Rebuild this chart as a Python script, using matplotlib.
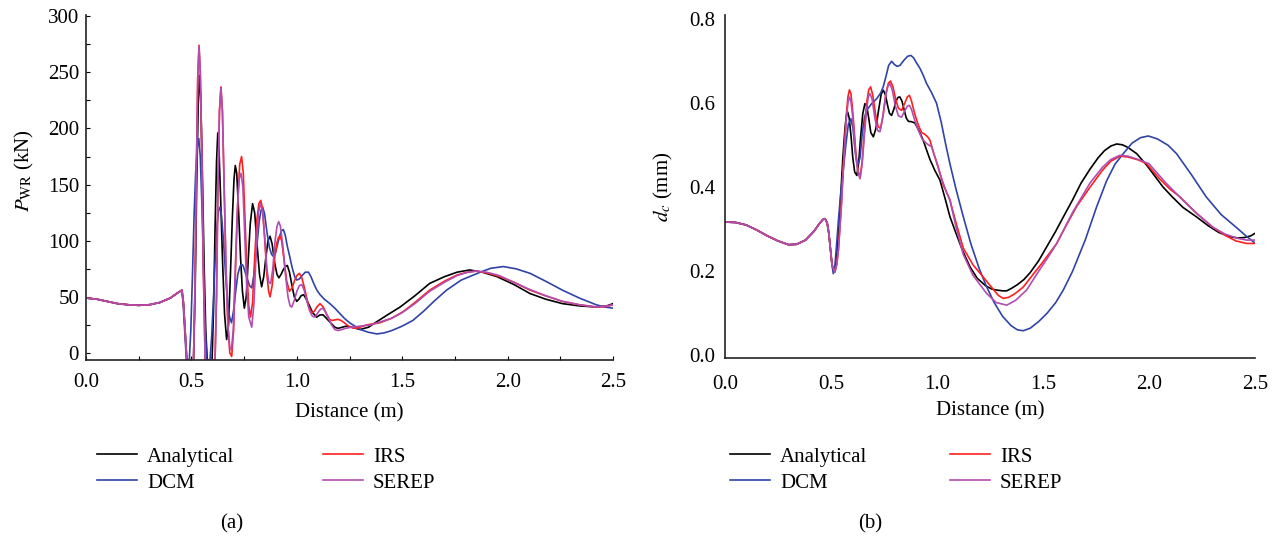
import matplotlib
matplotlib.use('Agg')
import matplotlib.pyplot as plt
from matplotlib.ticker import MultipleLocator, FormatStrFormatter

plt.rcParams['font.family'] = ['Liberation Serif', 'DejaVu Serif']
plt.rcParams['mathtext.fontset'] = 'stix'
plt.rcParams['font.size'] = 15

# ---- panel (a): P_WR (kN) vs distance (m) ----
base_x = [0.0, 0.05, 0.1, 0.15, 0.2, 0.25, 0.3, 0.35, 0.4, 0.43, 0.455]
base_p = [49, 48, 46, 44, 43, 42.5, 43, 45, 49, 53, 56]

ana_x = [0.462, 0.47, 0.478, 0.51, 0.518, 0.525, 0.532, 0.538, 0.544, 0.552, 0.56, 0.568,
         0.575, 0.598, 0.605, 0.612, 0.619, 0.625, 0.631, 0.639, 0.648, 0.657, 0.667,
         0.676, 0.685, 0.694, 0.702, 0.708, 0.715, 0.724, 0.733, 0.742, 0.751, 0.76,
         0.77, 0.779, 0.79, 0.8, 0.812, 0.823, 0.833, 0.843, 0.853, 0.863, 0.873, 0.883,
         0.895, 0.906, 0.915, 0.925, 0.935, 0.945, 0.955, 0.965, 0.975, 0.988, 1.0,
         1.01, 1.02, 1.032, 1.045, 1.06, 1.075, 1.094, 1.11, 1.125, 1.14, 1.16, 1.18,
         1.196, 1.215, 1.236, 1.26, 1.3, 1.34, 1.38, 1.43, 1.49, 1.56, 1.63, 1.7, 1.76,
         1.82, 1.88, 1.95, 2.03, 2.106, 2.18, 2.26, 2.34, 2.42, 2.47, 2.5]
ana_p = [45, 20, -6, -6, 60, 150, 220, 247, 228, 160, 80, 20,
         -6, -6, 40, 110, 170, 196, 180, 135, 80, 35, 12,
         25, 70, 120, 155, 167, 160, 125, 85, 55, 40, 50,
         85, 115, 133, 125, 95, 70, 59, 68, 85, 100, 104, 97,
         80, 70, 67, 70, 74, 77, 78, 72, 62, 50, 46,
         48, 51, 52, 48, 42, 36, 32, 34, 34, 31, 27, 23,
         22, 23, 24, 23, 21, 23, 28, 34, 41, 51, 62, 68, 72,
         74, 72, 68, 61, 53, 48, 44, 42, 41, 42, 44]

dcm_x = [0.462, 0.468, 0.476, 0.49, 0.497, 0.505, 0.513, 0.52, 0.527, 0.535, 0.542, 0.55,
         0.558, 0.566, 0.573, 0.588, 0.596, 0.605, 0.614, 0.622, 0.629, 0.636, 0.643,
         0.652, 0.662, 0.672, 0.681, 0.69, 0.7, 0.71, 0.72, 0.73, 0.738, 0.745, 0.755,
         0.765, 0.776, 0.786, 0.797, 0.81, 0.822, 0.83, 0.838, 0.847, 0.858, 0.87, 0.88,
         0.889, 0.9, 0.91, 0.92, 0.928, 0.936, 0.945, 0.955, 0.965, 0.978, 0.99, 1.0,
         1.012, 1.025, 1.04, 1.055, 1.067, 1.08, 1.095, 1.11, 1.13, 1.157, 1.18, 1.2,
         1.225, 1.25, 1.275, 1.3, 1.34, 1.38, 1.415, 1.45, 1.5, 1.55, 1.6, 1.65, 1.71,
         1.78, 1.87, 1.92, 1.98, 2.04, 2.106, 2.18, 2.26, 2.34, 2.42, 2.46, 2.5]
dcm_p = [40, 20, -6, -6, 20, 70, 125, 160, 182, 191, 175, 130,
         70, 20, -6, -6, 15, 50, 90, 115, 127, 130, 122,
         100, 70, 45, 32, 27, 38, 55, 70, 77, 79, 78, 72,
         66, 60, 58, 70, 95, 118, 127, 130, 124, 108, 94, 88,
         86, 90, 98, 105, 109, 110, 105, 95, 87, 76, 68, 65,
         66, 69, 72, 72, 68, 62, 56, 52, 48, 44, 40, 36,
         31, 27, 24, 21, 18.5, 17, 18, 20, 24, 29, 37, 46, 56,
         65, 72, 75.5, 77, 75, 71, 64, 56, 49, 43, 41, 40]

irs_x = [0.462, 0.47, 0.478, 0.51, 0.517, 0.524, 0.53, 0.536, 0.542, 0.549, 0.557, 0.565,
         0.612, 0.619, 0.626, 0.633, 0.64, 0.647, 0.655, 0.664, 0.673, 0.682, 0.691,
         0.7, 0.71, 0.72, 0.729, 0.738, 0.746, 0.755, 0.764, 0.772, 0.78, 0.79, 0.8,
         0.81, 0.82, 0.829, 0.838, 0.848, 0.858, 0.866, 0.873, 0.883, 0.895, 0.905,
         0.913, 0.92, 0.928, 0.94, 0.952, 0.965, 0.978, 0.99, 1.0, 1.012, 1.024, 1.04,
         1.055, 1.07, 1.082, 1.095, 1.11, 1.125, 1.14, 1.155, 1.166, 1.18, 1.195, 1.21,
         1.225, 1.245, 1.265, 1.28, 1.3, 1.33, 1.36, 1.395, 1.45, 1.505, 1.56, 1.63,
         1.7, 1.76, 1.81, 1.853, 1.91, 1.964, 2.03, 2.106, 2.18, 2.26, 2.34, 2.42, 2.47, 2.5]
irs_p = [45, 20, -6, -6, 60, 170, 246, 274, 251, 180, 70, -6,
         -6, 50, 150, 216, 237, 216, 150, 75, 25, 0, -3,
         20, 80, 135, 168, 175, 160, 115, 70, 42, 32, 45, 85,
         118, 133, 136, 128, 100, 70, 55, 50, 60, 85, 98,
         103, 104, 100, 82, 64, 55, 58, 65, 69, 71, 67, 55,
         42, 36, 37, 41, 44, 41, 35, 30, 29, 29.5, 30, 29,
         27, 24, 22.5, 22, 23, 25, 26, 27, 31, 37, 45, 56,
         64, 69.5, 72, 73, 71, 68, 63, 56, 51, 46, 43, 41, 41.5, 43]

ser_x = [0.462, 0.47, 0.478, 0.51, 0.517, 0.524, 0.53, 0.536, 0.542, 0.549, 0.557, 0.565,
         0.612, 0.619, 0.626, 0.633, 0.64, 0.647, 0.655, 0.664, 0.673, 0.682, 0.69,
         0.699, 0.708, 0.717, 0.726, 0.735, 0.744, 0.753, 0.762, 0.772, 0.786, 0.797,
         0.808, 0.818, 0.827, 0.836, 0.847, 0.858, 0.867, 0.876, 0.886, 0.897, 0.906,
         0.914, 0.922, 0.934, 0.946, 0.958, 0.968, 0.976, 0.988, 1.0, 1.012, 1.023,
         1.035, 1.048, 1.06, 1.073, 1.086, 1.1, 1.112, 1.123, 1.135, 1.15, 1.165, 1.18,
         1.196, 1.215, 1.23, 1.26, 1.3, 1.35, 1.4, 1.45, 1.5, 1.56, 1.63, 1.7, 1.76,
         1.81, 1.85, 1.9, 1.96, 2.03, 2.1, 2.18, 2.26, 2.34, 2.42, 2.47, 2.5]
ser_p = [45, 20, -6, -6, 60, 170, 245, 273, 250, 180, 70, -6,
         -6, 50, 150, 215, 236, 215, 150, 75, 25, 5, 3,
         22, 75, 125, 155, 160, 148, 105, 60, 32, 23, 45,
         95, 125, 133, 128, 105, 75, 63, 62, 75, 100, 113,
         117, 113, 95, 70, 50, 42, 41, 47, 55, 60, 61,
         56, 46, 38, 33, 32, 36, 39, 40, 37, 31, 25, 21,
         20, 21, 22, 23, 24, 25, 28, 31, 36, 44, 55, 63, 69,
         72, 73, 72, 69, 63, 57, 51, 46, 43, 41, 42, 43]

# ---- panel (b): d_c (mm) vs distance (m) ----
base_xb = [0.0, 0.05, 0.1, 0.15, 0.2, 0.25, 0.3, 0.338, 0.38, 0.42, 0.445, 0.462, 0.472,
           0.482, 0.49, 0.498, 0.505]
base_d = [0.317, 0.316, 0.31, 0.298, 0.284, 0.272, 0.263, 0.264, 0.274, 0.295, 0.313, 0.323,
          0.325, 0.315, 0.29, 0.25, 0.215]

ana_xb = [0.512, 0.52, 0.528, 0.537, 0.546, 0.556, 0.566, 0.573, 0.579, 0.586, 0.595, 0.603,
          0.612, 0.622, 0.631, 0.64, 0.65, 0.66, 0.668, 0.678, 0.688, 0.7, 0.712, 0.725,
          0.737, 0.747, 0.757, 0.767, 0.776, 0.786, 0.796, 0.807, 0.816, 0.825, 0.835,
          0.845, 0.855, 0.865, 0.88, 0.896, 0.915, 0.935, 0.95, 0.967, 0.99, 1.014, 1.04,
          1.061, 1.09, 1.12, 1.156, 1.19, 1.23, 1.26, 1.282, 1.31, 1.329, 1.355, 1.38,
          1.41, 1.439, 1.48, 1.52, 1.56, 1.596, 1.64, 1.68, 1.722, 1.76, 1.79, 1.82,
          1.848, 1.875, 1.9, 1.942, 1.99, 2.03, 2.067, 2.11, 2.16, 2.225, 2.28, 2.33,
          2.382, 2.42, 2.45, 2.48, 2.5]
ana_d = [0.2, 0.205, 0.24, 0.3, 0.38, 0.47, 0.54, 0.572, 0.579, 0.565, 0.52, 0.47,
         0.436, 0.428, 0.46, 0.52, 0.575, 0.599, 0.595, 0.565, 0.53, 0.52, 0.54, 0.585,
         0.622, 0.631, 0.62, 0.595, 0.576, 0.571, 0.585, 0.605, 0.614, 0.615, 0.605,
         0.585, 0.565, 0.557, 0.556, 0.553, 0.535, 0.512, 0.49, 0.466, 0.44, 0.417, 0.37,
         0.33, 0.29, 0.25, 0.21, 0.183, 0.165, 0.157, 0.155, 0.153, 0.153, 0.16, 0.168,
         0.18, 0.196, 0.225, 0.26, 0.295, 0.329, 0.37, 0.41, 0.443, 0.47, 0.487, 0.498,
         0.503, 0.501, 0.495, 0.48, 0.452, 0.425, 0.4, 0.377, 0.352, 0.329, 0.308, 0.292,
         0.282, 0.279, 0.28, 0.284, 0.29]

dcm_xb = [0.511, 0.518, 0.526, 0.535, 0.546, 0.558, 0.57, 0.582, 0.594, 0.604, 0.613,
          0.621, 0.628, 0.637, 0.648, 0.658, 0.668, 0.69, 0.716, 0.735, 0.747, 0.76,
          0.772, 0.786, 0.8, 0.812, 0.825, 0.845, 0.862, 0.877, 0.89, 0.905, 0.92, 0.935,
          0.951, 0.975, 0.998, 1.02, 1.04, 1.061, 1.09, 1.124, 1.16, 1.2, 1.234, 1.27,
          1.31, 1.35, 1.38, 1.407, 1.44, 1.48, 1.52, 1.56, 1.596, 1.64, 1.7, 1.753, 1.8,
          1.84, 1.879, 1.92, 1.96, 1.997, 2.04, 2.09, 2.13, 2.2, 2.27, 2.34, 2.41, 2.46, 2.5]
dcm_d = [0.194, 0.21, 0.26, 0.32, 0.385, 0.44, 0.5, 0.55, 0.563, 0.54, 0.49,
         0.462, 0.455, 0.47, 0.53, 0.565, 0.583, 0.598, 0.611, 0.625, 0.64, 0.665,
         0.69, 0.7, 0.692, 0.688, 0.69, 0.703, 0.712, 0.714, 0.708, 0.695, 0.683, 0.667,
         0.647, 0.625, 0.6, 0.555, 0.505, 0.456, 0.395, 0.33, 0.265, 0.205, 0.163, 0.125,
         0.092, 0.07, 0.06, 0.058, 0.064, 0.08, 0.1, 0.125, 0.155, 0.2, 0.275, 0.353, 0.415,
         0.455, 0.48, 0.505, 0.518, 0.522, 0.515, 0.5, 0.48, 0.43, 0.377, 0.335, 0.305,
         0.283, 0.267]

irs_xb = [0.519, 0.527, 0.535, 0.543, 0.55, 0.558, 0.566, 0.573, 0.58, 0.587, 0.594, 0.601,
          0.609, 0.617, 0.627, 0.637, 0.647, 0.657, 0.668, 0.678, 0.687, 0.697, 0.71,
          0.722, 0.734, 0.747, 0.76, 0.771, 0.781, 0.792, 0.805, 0.818, 0.833, 0.848, 0.86,
          0.87, 0.88, 0.895, 0.912, 0.928, 0.943, 0.956, 0.967, 0.985, 1.006, 1.03, 1.061,
          1.09, 1.124, 1.17, 1.218, 1.26, 1.29, 1.313, 1.34, 1.37, 1.407, 1.45, 1.5,
          1.565, 1.6, 1.66, 1.722, 1.78, 1.82, 1.863, 1.9, 1.95, 1.989, 2.05, 2.1, 2.146,
          2.22, 2.3, 2.36, 2.41, 2.46, 2.5]
irs_d = [0.198, 0.215, 0.25, 0.31, 0.37, 0.45, 0.52, 0.575, 0.615, 0.632, 0.623, 0.59,
         0.54, 0.485, 0.44, 0.424, 0.46, 0.53, 0.6, 0.632, 0.639, 0.62, 0.575,
         0.545, 0.54, 0.575, 0.625, 0.648, 0.653, 0.64, 0.61, 0.588, 0.583, 0.6, 0.615,
         0.619, 0.605, 0.575, 0.548, 0.53, 0.526, 0.52, 0.512, 0.48, 0.448, 0.405, 0.37,
         0.315, 0.255, 0.215, 0.186, 0.16, 0.142, 0.135, 0.138, 0.147, 0.162, 0.19, 0.222,
         0.266, 0.3, 0.355, 0.4, 0.44, 0.462, 0.474, 0.472, 0.465, 0.456, 0.42, 0.395, 0.377,
         0.34, 0.305, 0.285, 0.272, 0.266, 0.266]

ser_xb = [0.517, 0.527, 0.535, 0.543, 0.55, 0.558, 0.566, 0.573, 0.58, 0.587, 0.594, 0.601,
          0.609, 0.617, 0.627, 0.637, 0.647, 0.657, 0.668, 0.676, 0.684, 0.694, 0.707,
          0.72, 0.731, 0.744, 0.757, 0.768, 0.778, 0.79, 0.803, 0.818, 0.833, 0.848, 0.86,
          0.87, 0.88, 0.895, 0.912, 0.93, 0.951, 0.975, 0.995, 1.014, 1.04, 1.061, 1.09,
          1.124, 1.17, 1.234, 1.28, 1.329, 1.37, 1.423, 1.48, 1.52, 1.565, 1.64, 1.722,
          1.78, 1.82, 1.863, 1.9, 1.95, 2.0, 2.08, 2.16, 2.23, 2.3, 2.36, 2.42, 2.46, 2.5]
ser_d = [0.197, 0.215, 0.25, 0.31, 0.36, 0.44, 0.51, 0.565, 0.6, 0.615, 0.605, 0.575,
         0.525, 0.475, 0.435, 0.42, 0.455, 0.52, 0.585, 0.615, 0.623, 0.61, 0.565,
         0.535, 0.532, 0.565, 0.615, 0.64, 0.647, 0.63, 0.595, 0.57, 0.567, 0.582, 0.593,
         0.595, 0.585, 0.56, 0.536, 0.515, 0.504, 0.496, 0.465, 0.432, 0.395, 0.369, 0.305,
         0.24, 0.19, 0.147, 0.125, 0.119, 0.13, 0.155, 0.2, 0.23, 0.266, 0.34, 0.41,
         0.447, 0.466, 0.476, 0.474, 0.466, 0.456, 0.41, 0.369, 0.335, 0.305, 0.288, 0.278,
         0.274, 0.274]

labels = ['Analytical', 'DCM', 'IRS', 'SEREP']
colors = ['#000000', '#2f44a6', '#ff1f1f', '#b24db0']

fig = plt.figure(figsize=(12.82, 5.40), dpi=100)
ax1 = fig.add_axes([0.0671, 0.3333, 0.4111, 0.6389])
ax2 = fig.add_axes([0.5655, 0.337, 0.4134, 0.635])

series_a = [(ana_x, ana_p), (dcm_x, dcm_p), (irs_x, irs_p), (ser_x, ser_p)]
series_b = [(ana_xb, ana_d), (dcm_xb, dcm_d), (irs_xb, irs_d), (ser_xb, ser_d)]

lines_a = []
for (xs, ys), c, lab in zip(series_a, colors, labels):
    l, = ax1.plot(base_x + xs, base_p + ys, color=c, lw=1.2, label=lab)
    lines_a.append(l)
lines_b = []
for (xs, ys), c, lab in zip(series_b, colors, labels):
    l, = ax2.plot(base_xb + xs, base_d + ys, color=c, lw=1.2, label=lab)
    lines_b.append(l)

for ax in (ax1, ax2):
    ax.spines['top'].set_visible(False)
    ax.spines['right'].set_visible(False)
    for s in ('left', 'bottom'):
        ax.spines[s].set_linewidth(1.2)
        ax.spines[s].set_color('#222222')
    ax.set_xlim(0, 2.5)
    ax.xaxis.set_major_locator(MultipleLocator(0.5))
    ax.xaxis.set_major_formatter(FormatStrFormatter('%.1f'))
    ax.set_xlabel('Distance (m)', fontsize=15)
    ax.xaxis.set_label_coords(0.5, -0.125)
    ax.tick_params(labelsize=15)

ax1.set_ylim(-6.2, 301)
ax1.yaxis.set_major_locator(MultipleLocator(50))
ax1.yaxis.set_minor_locator(MultipleLocator(25))
ax1.xaxis.set_minor_locator(MultipleLocator(0.25))
ax1.tick_params(which='both', direction='in', length=3, width=0.8)
ax1.tick_params(axis='x', which='both', pad=9)
ax1.tick_params(axis='y', which='both', pad=5)
ax1.set_ylabel(r'$P_{\rm WR}$ (kN)', fontsize=15)
ax1.yaxis.set_label_coords(-0.095, 0.55)

ax2.set_ylim(-0.007, 0.81)
ax2.yaxis.set_major_locator(MultipleLocator(0.2))
ax2.yaxis.set_major_formatter(FormatStrFormatter('%.1f'))
ax2.tick_params(which='both', length=0)
ax2.tick_params(axis='x', pad=12)
ax2.tick_params(axis='y', pad=7)
ax2.set_ylabel(r'$d_c$ (mm)', fontsize=15)
ax2.yaxis.set_label_coords(-0.095, 0.5)

# legends: two columns under each panel
leg_kw = dict(frameon=False, loc='upper left', borderpad=0, borderaxespad=0,
              handlelength=1.9, handletextpad=0.5, labelspacing=0.3, fontsize=15,
              bbox_transform=fig.transFigure)
for lines, x1, x2 in ((lines_a, 0.0757, 0.252), (lines_b, 0.5695, 0.741)):
    fig.legend(handles=[lines[0], lines[1]], bbox_to_anchor=(x1, 0.172), **leg_kw)
    fig.legend(handles=[lines[2], lines[3]], bbox_to_anchor=(x2, 0.172), **leg_kw)

fig.text(0.181, 0.03, '(a)', ha='center', va='center', fontsize=15)
fig.text(0.679, 0.03, '(b)', ha='center', va='center', fontsize=15)

fig.savefig('out.png', dpi=100)
